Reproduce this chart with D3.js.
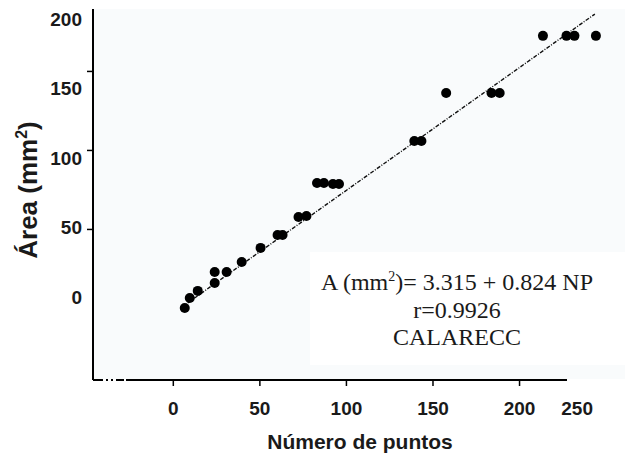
<!DOCTYPE html>
<html>
<head>
<meta charset="utf-8">
<script src="https://cdn.jsdelivr.net/npm/d3@7"></script>
<style>
  body { margin: 0; background: #fff; }
  svg { display: block; }
</style>
</head>
<body>
<svg id="chart" width="641" height="456"></svg>
<script>
// data
const pointsX = [6.9, 9.8, 14.4, 24.2, 24.2, 31.1, 39.8, 50.7, 60.5, 63.4, 72.6, 77.2,
    83.3, 87.3, 92.5, 96.0, 139.5, 143.6, 157.9, 184.1, 188.8, 213.8, 227.4, 232.0, 244.4];
const pointsY = [0, 6.3, 10.8, 15.8, 22.8, 22.8, 29.1, 38.0, 46.2, 46.2, 57.6, 58.2,
    79.1, 79.1, 78.5, 78.5, 105.7, 105.7, 136.0, 136.0, 136.0, 172.2, 172.2, 172.2, 172.2];
const fitX = [8.6, 243.8];
const fitY = [3.2, 186];
const xTicks = [0, 50, 100, 150, 200];
const xTickLabels = [0, 50, 100, 150, 200, 250];
const yTicks = [50, 100, 150];
const yTickLabels = [0, 50, 100, 150, 200];
const noteLines = ['r=0.9926', 'CALARECC'];

const svg = d3.select('#chart');

const x = d3.scaleLinear().domain([-46.1, 227.7]).range([93, 567]);
const y = d3.scaleLinear().domain([-45.6, 189.2]).range([380, 9]);
// the labels of the y axis sit on their own spacing in the figure
const yLabel = d3.scaleLinear().domain([0, 200]).range([297, 19]);

// faint plot background
svg.append('rect')
    .attr('x', 93).attr('y', 9)
    .attr('width', 532).attr('height', 370)
    .attr('fill', '#f9fbfc');
svg.append('rect')
    .attr('x', 310).attr('y', 252)
    .attr('width', 315).attr('height', 113)
    .attr('fill', '#fff');

// x axis
const gx = svg.append('g')
    .attr('transform', `translate(0,${y.range()[0]})`)
    .call(d3.axisBottom(x).tickValues(xTicks).tickSize(6).tickFormat(''));
gx.select('.domain')
    .attr('d', `M${x.range()[0]},0H${x.range()[1]}`)
    .attr('stroke-width', 2)
    .attr('stroke-dasharray', '10 3 2 3 2 3 8 2 2000');
gx.selectAll('.tick line').attr('stroke-width', 1.5);

svg.append('g')
    .attr('transform', `translate(0,${y.range()[0]})`)
    .call(d3.axisBottom(x).tickValues(xTickLabels).tickSize(0).tickPadding(22))
    .call(g => g.select('.domain').remove())
    .call(g => g.selectAll('text')
        .attr('font-family', 'Liberation Sans, Arial, sans-serif')
        .attr('font-weight', 'bold')
        .attr('font-size', 19)
        .attr('fill', '#1a1a1a'))
    .call(g => g.selectAll('.tick').filter(d => d === 250).select('text').attr('dx', -29));

// y axis
const gy = svg.append('g')
    .attr('transform', `translate(${x.range()[0]},0)`)
    .call(d3.axisLeft(y).tickValues(yTicks).tickSize(6).tickFormat(''));
gy.select('.domain')
    .attr('d', `M0,${y.range()[1]}V${y.range()[0]}`)
    .attr('stroke-width', 2);
gy.selectAll('.tick line').attr('stroke-width', 1.5);

svg.append('g')
    .attr('transform', `translate(${x.range()[0]},0)`)
    .call(d3.axisLeft(yLabel).tickValues(yTickLabels).tickSize(0).tickPadding(11))
    .call(g => g.select('.domain').remove())
    .call(g => g.selectAll('text')
        .attr('font-family', 'Liberation Sans, Arial, sans-serif')
        .attr('font-weight', 'bold')
        .attr('font-size', 19)
        .attr('fill', '#1a1a1a'));

// fitted line
svg.append('line')
    .attr('x1', x(fitX[0])).attr('y1', y(fitY[0]))
    .attr('x2', x(fitX[1])).attr('y2', y(fitY[1]))
    .attr('stroke', '#111')
    .attr('stroke-width', 1.4)
    .attr('stroke-dasharray', '4 1.5 1 1.5');

// points
svg.append('g')
    .selectAll('circle')
    .data(pointsX.map((d, i) => [d, pointsY[i]]))
    .join('circle')
    .attr('cx', d => x(d[0]))
    .attr('cy', d => y(d[1]))
    .attr('r', 5)
    .attr('fill', '#000');

// axis titles
svg.append('text')
    .attr('x', 360).attr('y', 449)
    .attr('text-anchor', 'middle')
    .attr('font-family', 'Liberation Sans, Arial, sans-serif')
    .attr('font-weight', 'bold')
    .attr('font-size', 21)
    .attr('fill', '#1a1a1a')
    .text('Número de puntos');

const yt = svg.append('text')
    .attr('transform', 'translate(37,190) rotate(-90)')
    .attr('text-anchor', 'middle')
    .attr('font-family', 'Liberation Sans, Arial, sans-serif')
    .attr('font-weight', 'bold')
    .attr('font-size', 26)
    .attr('fill', '#1a1a1a');
yt.append('tspan').text('Área (mm');
yt.append('tspan').attr('font-size', 16).attr('dy', -10).text('2');
yt.append('tspan').attr('dy', 10).text(')');

// equation note
const note = svg.append('g')
    .attr('font-family', 'Liberation Serif, Times New Roman, serif')
    .attr('font-size', 24)
    .attr('fill', '#1a1a1a')
    .attr('text-anchor', 'middle');
const eq = note.append('text').attr('x', 457).attr('y', 290);
eq.append('tspan').text('A (mm');
eq.append('tspan').attr('font-size', 14).attr('dy', -9).text('2');
eq.append('tspan').attr('dy', 9).text(')= 3.315 + 0.824 NP');
note.selectAll('text.line')
    .data(noteLines)
    .join('text')
    .attr('class', 'line')
    .attr('x', 457)
    .attr('y', (d, i) => 318 + i * 27)
    .text(d => d);
</script>
</body>
</html>
